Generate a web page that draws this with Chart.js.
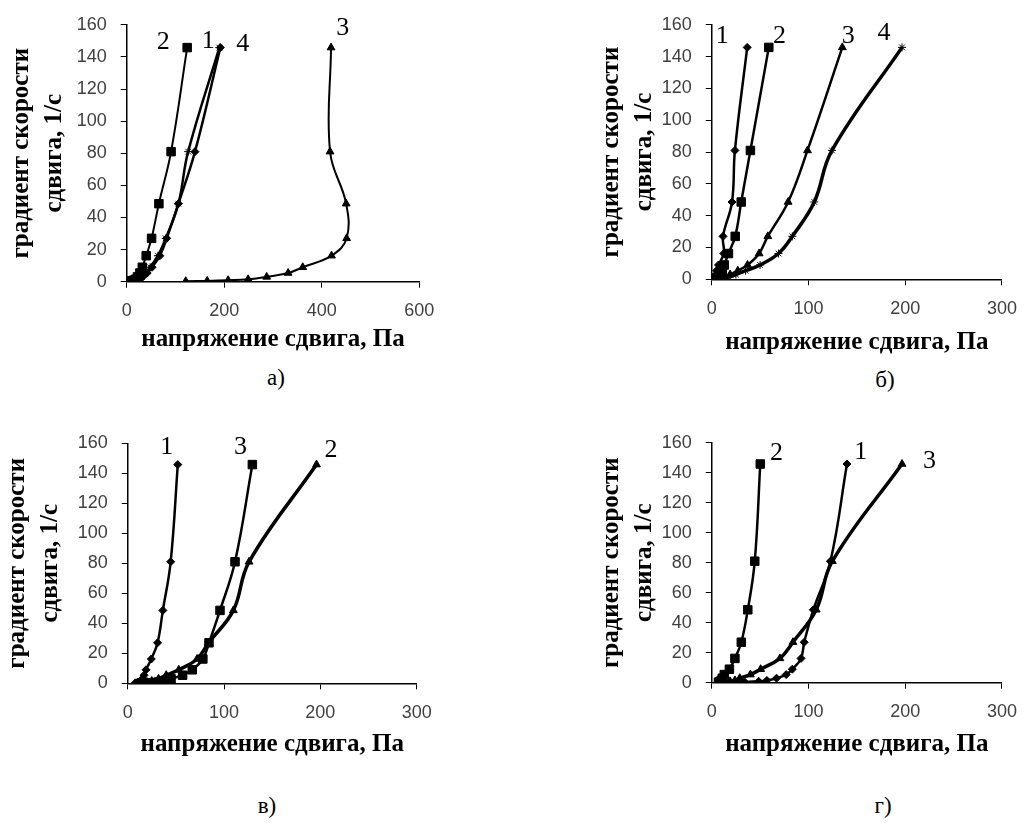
<!DOCTYPE html>
<html>

<head>
  <meta charset="utf-8">
  <title>Кривые течения</title>
  <style>
    body {
      margin: 0;
      background: #fff;
    }

    .page {
      position: relative;
      width: 1030px;
      height: 823px;
      overflow: hidden;
    }

    .panel {
      position: absolute;
    }

    .caption {
      position: absolute;
      font: 23px "Liberation Serif", serif;
      color: #000;
      transform: translate(-50%, -50%);
    }
  </style>
</head>

<body>
  <main class="page">
    <div class="panel" style="left:0;top:0;width:460px;height:362px"><canvas id="chart-a"></canvas></div>
    <div class="panel" style="left:560px;top:0;width:470px;height:362px"><canvas id="chart-b"></canvas></div>
    <div class="panel" style="left:0;top:400px;width:460px;height:370px"><canvas id="chart-v"></canvas></div>
    <div class="panel" style="left:560px;top:400px;width:470px;height:370px"><canvas id="chart-g"></canvas></div>
    <div class="caption" style="left:276px;top:378px">а)</div>
    <div class="caption" style="left:885px;top:380px">б)</div>
    <div class="caption" style="left:267px;top:806px">в)</div>
    <div class="caption" style="left:883px;top:806px">г)</div>
  </main>

  <script src="https://cdn.jsdelivr.net/npm/chart.js"></script>

  <script>
    // градиент скорости сдвига, 1/с (общий для всех кривых)
    const rate = [0.3, 0.5, 0.9, 1.5, 3, 5.4, 9, 16.2, 27, 48.6, 81, 145.8];

    // а) напряжение сдвига, Па
    const stressA1 = [10, 15, 20, 26, 33, 42, 52, 68, 82, 106, 140, 192];
    const stressA2 = [7, 10, 14, 18, 22, 27, 32, 40, 51, 66, 91, 124];
    const stressA3 = [121, 165, 208, 249, 287, 331, 361, 420, 451, 450, 417, 419];
    const stressA4 = [8, 12, 17, 23, 30, 38, 48, 64, 80, 106, 126, 190];
    // б)
    const stressB1 = [2, 3, 3.5, 4, 4.5, 5, 7, 12.5, 11.7, 21, 24, 36.7];
    const stressB2 = [3, 4, 5, 7, 9, 11, 13, 17.3, 24.3, 30.5, 40, 59];
    const stressB3 = [4, 7, 10, 14, 19, 27, 37, 49, 58, 79, 99, 135];
    const stressB4 = [5, 9, 13, 18, 25, 35, 50, 69, 83.3, 106, 124.3, 196.7];
    // в)
    const stressV1 = [8, 10, 12, 13, 15, 17, 19, 24.5, 31, 36.5, 44.6, 52];
    const stressV2 = [10, 15, 20, 25, 32, 40, 53, 72, 84, 109.7, 126, 196];
    const stressV3 = [22, 27, 32, 36, 45, 57, 67, 78, 84.4, 95.8, 111.4, 129.4];
    // г)
    const stressG1 = [15, 34, 48.5, 57, 67, 77, 83.3, 92.3, 95.6, 105, 122.7, 139.8];
    const stressG2 = [7, 8, 9, 10, 11, 13, 18.3, 24, 30.6, 37.3, 44.5, 50.2];
    const stressG3 = [10, 14, 19, 24, 29, 40, 50.6, 70.5, 84, 108, 124.7, 196.7];

    // номера кривых: [текст, напряжение, градиент]
    const numbersA = [['2', 75, 149], ['1', 167, 150], ['4', 238, 148], ['3', 443, 158]];
    const numbersB = [['1', 11, 153], ['2', 70, 153], ['3', 141, 153], ['4', 178, 154.5]];
    const numbersV = [['1', 40.5, 157.5], ['3', 117, 157.5], ['2', 211, 155.5]];
    const numbersG = [['2', 67, 153], ['1', 154, 153.5], ['3', 225, 147.5]];

    const xTicksA = { max: 600, step: 200 };
    const xTicksOther = { max: 300, step: 100 };

    const curveNumbers = {
      id: 'curveNumbers',
      afterDatasetsDraw(chart, args, opts) {
        const { ctx, scales: { x, y } } = chart;
        ctx.save();
        ctx.font = '26px "Liberation Serif"';
        ctx.fillStyle = '#000';
        ctx.textAlign = 'center';
        ctx.textBaseline = 'middle';
        (opts.items || []).forEach(([t, vx, vy]) => {
          ctx.fillText(t, x.getPixelForValue(vx), y.getPixelForValue(vy));
        });
        ctx.restore();
      }
    };

    function series(stress, style, radius, width) {
      return {
        data: stress.map((s, i) => ({ x: s, y: rate[i] })),
        showLine: true,
        tension: 0.4,
        borderColor: '#000',
        backgroundColor: '#000',
        borderWidth: width,
        pointStyle: style,
        pointRadius: radius,
        pointBorderWidth: 1,
        pointBackgroundColor: '#000',
        pointBorderColor: '#000'
      };
    }

    const tickFont = { family: 'Liberation Sans', size: 18 };
    const titleFont = { family: 'Liberation Serif', weight: 'bold', size: 25 };

    // box: место холста, area: область построения (в пикселях страницы)
    function makePanel(id, box, area, xt, datasets, items, yPad, xPad) {
      return new Chart(document.getElementById(id), {
        type: 'scatter',
        data: { datasets },
        options: {
          responsive: true,
          maintainAspectRatio: false,
          animation: false,
          layout: {
            padding: { left: 0, top: area.top - box.top, right: box.left + box.w - area.right, bottom: 0 }
          },
          plugins: {
            legend: { display: false },
            tooltip: { enabled: false },
            curveNumbers: { items }
          },
          scales: {
            x: {
              type: 'linear',
              min: 0,
              max: xt.max,
              ticks: { stepSize: xt.step, font: tickFont, color: '#404040', padding: 13, maxRotation: 0 },
              grid: { drawOnChartArea: false, tickLength: 6, color: '#000' },
              border: { color: '#000', width: 1.5 },
              title: {
                display: true, text: 'напряжение сдвига, Па', font: { ...titleFont, lineHeight: 1.2 }, color: '#000',
                padding: { top: 0, bottom: xPad }
              },
              afterFit: s => { s.height = box.top + box.h - area.bottom; }
            },
            y: {
              type: 'linear',
              min: 0,
              max: 160,
              ticks: { stepSize: 20, font: tickFont, color: '#404040', padding: 14 },
              grid: { drawOnChartArea: false, tickLength: 6, color: '#000' },
              border: { color: '#000', width: 1.5 },
              title: {
                display: true, text: ['градиент скорости', 'сдвига, 1/с'],
                font: { ...titleFont, lineHeight: 1.3 }, color: '#000',
                padding: { top: yPad, bottom: 0 }
              },
              afterFit: s => { s.width = area.left - box.left; }
            }
          }
        },
        plugins: [curveNumbers]
      });
    }

    makePanel('chart-a',
      { left: 0, top: 0, w: 460, h: 362 },
      { left: 126.7, top: 24, right: 419.3, bottom: 281.7 },
      xTicksA,
      [
        series(stressA1, 'rectRot', 4, 2.5),
        series(stressA2, 'rect', 6, 2),
        series(stressA3, 'triangle', 4.5, 2),
        series(stressA4, 'star', 4, 2.5)
      ], numbersA, 5.5, 7);

    makePanel('chart-b',
      { left: 560, top: 0, w: 470, h: 362 },
      { left: 711.7, top: 24.7, right: 1011.7, bottom: 279.3 },
      xTicksOther,
      [
        series(stressB1, 'rectRot', 4, 2.5),
        series(stressB2, 'rect', 6, 2.5),
        series(stressB3, 'triangle', 4.5, 2.5),
        series(stressB4, 'star', 4, 3.5)
      ], numbersB, 35.5, 4);

    makePanel('chart-v',
      { left: 0, top: 400, w: 460, h: 370 },
      { left: 127.7, top: 443.3, right: 416.7, bottom: 683.3 },
      xTicksOther,
      [
        series(stressV1, 'rectRot', 4, 2.5),
        series(stressV2, 'triangle', 4.5, 3.5),
        series(stressV3, 'rect', 6, 2.5)
      ], numbersV, 1.5, 10);

    makePanel('chart-g',
      { left: 560, top: 400, w: 470, h: 370 },
      { left: 711.7, top: 442.7, right: 1010.7, bottom: 682.7 },
      xTicksOther,
      [
        series(stressG1, 'rectRot', 4, 2.5),
        series(stressG2, 'rect', 6, 2.5),
        series(stressG3, 'triangle', 4.5, 3.5)
      ], numbersG, 35.5, 10);
  </script>
</body>

</html>
